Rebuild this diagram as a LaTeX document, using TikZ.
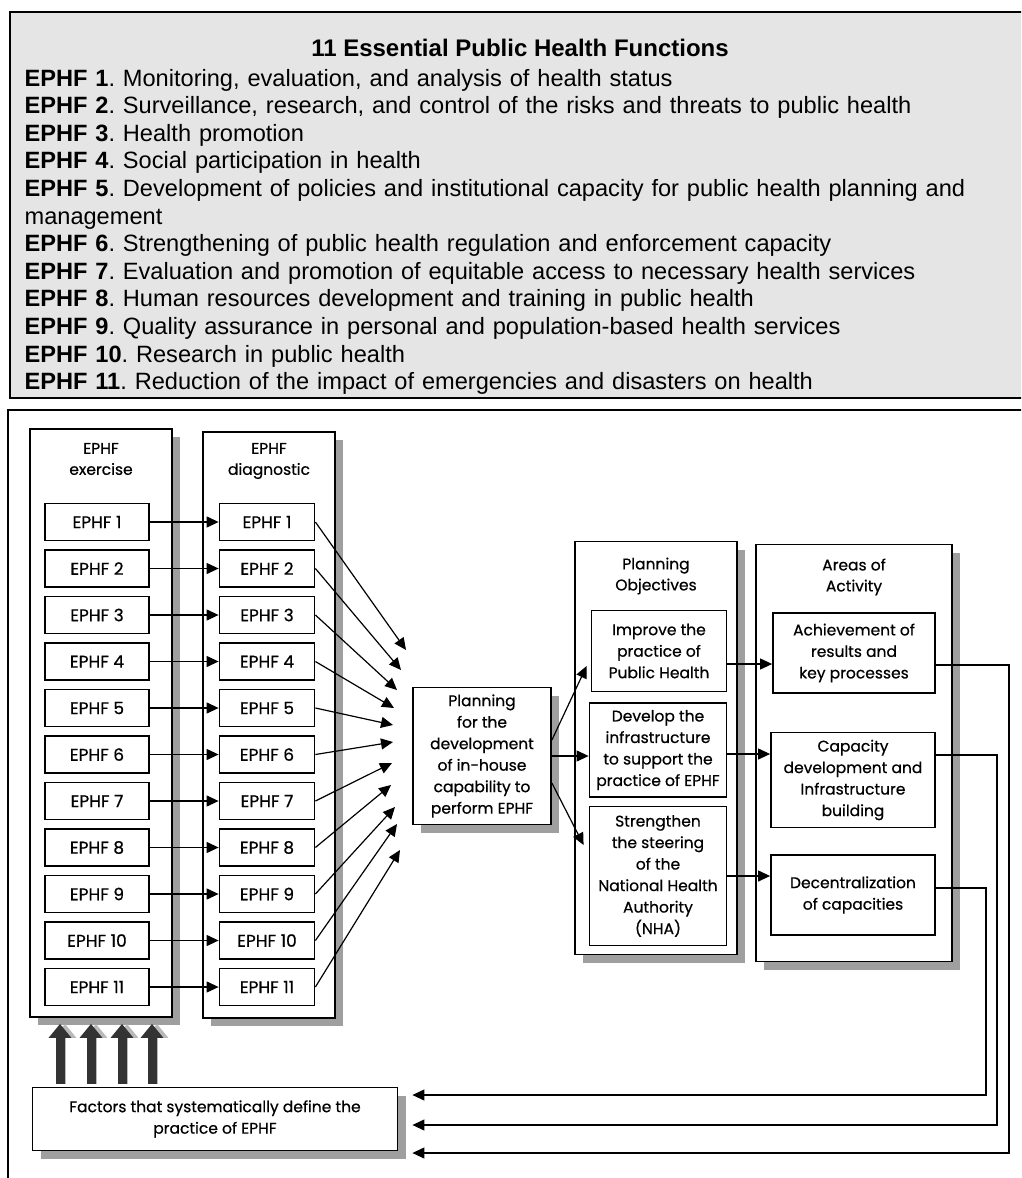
\documentclass[tikz,border=0pt]{standalone}
\usepackage{fontspec}
\setmainfont{Liberation Sans}
\newfontfamily\diagfont{Poppins}[FakeBold=0.6]
\frenchspacing
\usetikzlibrary{arrows.meta,shadows,positioning}

\begin{document}
\begin{tikzpicture}[x=1pt,y=-1pt,>={Triangle[length=12pt,width=11pt]},line width=1.2pt,
    panel/.style={draw,line width=1.8pt,fill=white,
      drop shadow={shadow xshift=8pt,shadow yshift=-8pt,fill=gray!75,opacity=1}},
    box/.style={draw,line width=1.8pt,fill=white,align=center,inner sep=1pt,
      font=\diagfont\fontsize{15.5}{21.5}\selectfont},
    title/.style={align=center,font=\diagfont\fontsize{15.5}{21}\selectfont},
    ephf/.style={box,minimum height=37pt,font=\diagfont\fontsize{17}{20}\selectfont},
    fat arrow/.style={line width=9pt,draw=black!80,-{Triangle[length=14pt,width=22pt]},
      preaction={draw=gray!55,transform canvas={xshift=5pt}}}]
  \useasboundingbox (0,0) rectangle (1021,1178);
  \clip (0,0) rectangle (1021,1178);

  \draw[line width=1.5pt,fill=gray!20] (1030,12) -- (10,12) -- (10,398) -- (1030,398);
  \node[font=\bfseries\fontsize{24}{28}\selectfont] (head) at (520,48) {11 Essential Public Health Functions};
  \node[anchor=base west,inner sep=0pt,text width=1000pt,align=left,
        font=\fontsize{23.6}{27.6}\selectfont] (list) at (24,86)
    {\textbf{EPHF 1}. Monitoring, evaluation, and analysis of health status\\
     \textbf{EPHF 2}. Surveillance, research, and control of the risks and threats to public health\\
     \textbf{EPHF 3}. Health promotion\\
     \textbf{EPHF 4}. Social participation in health\\
     \textbf{EPHF 5}. Development of policies and institutional capacity for public health planning and\\
     management\\
     \textbf{EPHF 6}. Strengthening of public health regulation and enforcement capacity\\
     \textbf{EPHF 7}. Evaluation and promotion of equitable access to necessary health services\\
     \textbf{EPHF 8}. Human resources development and training in public health\\
     \textbf{EPHF 9}. Quality assurance in personal and population-based health services\\
     \textbf{EPHF 10}. Research in public health\\
     \textbf{EPHF 11}. Reduction of the impact of emergencies and disasters on health};

  \draw[line width=1.2pt] (1030,410) -- (8,410) -- (8,1190);

  \node[panel,minimum width=142pt,minimum height=588pt] (exercise) at (101,723) {};
  \node[panel,minimum width=132pt,minimum height=586pt] (diagnostic) at (269,725) {};
  \node[title] (extitle) at (101,459) {EPHF\\exercise};
  \node[title] (dgtitle) at (269,461) {EPHF\\diagnostic};

  \foreach \i in {1,...,11} {
    \node[ephf,minimum width=104pt] (ex\i) at (97,{522+46.5*(\i-1)}) {EPHF \i};
    \node[ephf,minimum width=95pt] (dg\i) at (267,{522+46.5*(\i-1)}) {EPHF \i};
    \path[->] (ex\i) edge (dg\i);
  }

  \foreach \i/\tx/\ty in {1/406/650,2/401/670,3/397/690,4/394/708,5/393/725,6/393/742,
                          7/392/763,8/391/785,9/395/807,10/397/824,11/400/850} {
    \coordinate (fan\i) at (\tx,\ty);
    \draw[->] (dg\i.east) -- (fan\i);
  }

  \node[panel,box,minimum width=138pt,minimum height=137pt] (plan) at (482,756)
    {Planning\\for the\\development\\of in-house\\capability to\\perform EPHF};

  \node[panel,minimum width=162pt,minimum height=413pt] (objectives) at (656,748) {};
  \node[title] (objtitle) at (656,576) {Planning\\Objectives};
  \node[box,minimum width=135pt,minimum height=81pt] (obj1) at (659,651)
    {Improve the\\practice of\\Public Health};
  \node[box,minimum width=137pt,minimum height=94pt] (obj2) at (658,750)
    {Develop the\\infrastructure\\to support the\\practice of EPHF};
  \node[box,minimum width=137pt,minimum height=139pt] (obj3) at (658,876)
    {Strengthen\\the steering\\of the\\National Health\\Authority\\(NHA)};

  \node[panel,minimum width=196pt,minimum height=417pt] (activity) at (854,753) {};
  \node[title] (acttitle) at (854,577) {Areas of\\Activity};
  \node[box,minimum width=162pt,minimum height=80pt] (act1) at (854,653)
    {Achievement of\\results and\\key processes};
  \node[box,minimum width=164pt,minimum height=95pt] (act2) at (853,780)
    {Capacity\\development and\\Infrastructure\\building};
  \node[box,minimum width=164pt,minimum height=80pt] (act3) at (853,895)
    {Decentralization\\of capacities};

  \draw[->] ([yshift=16pt]plan.east) -- ([xshift=-4pt,yshift=-15pt]obj1.west);
  \draw[->] (plan.east) -- (plan.east -| obj2.west);
  \draw[->] ([yshift=-27pt]plan.east) -- ([xshift=-5pt,yshift=31pt]obj3.west);

  \draw[->] ([yshift=-13pt]obj1.east) -- ([yshift=-13pt]obj1.east -| act1.west);
  \draw[->] ([yshift=-4pt]obj2.east) -- ([yshift=-4pt]obj2.east -| act2.west);
  \draw[->] (obj3.east) -- (obj3.east -| act3.west);

  \node[panel,box,minimum width=365pt,minimum height=63pt] (factors) at (215,1119)
    {Factors that systematically define the\\practice of EPHF};

  \foreach \dx in {-41,-10,21,51}
    \draw[fat arrow] ([xshift=\dx pt,yshift=3pt]exercise.south |- factors.north)
      -- ([xshift=\dx pt,yshift=-6pt]exercise.south);

  \coordinate (c1) at (1009,1153);
  \coordinate (c2) at (997,1125);
  \coordinate (c3) at (986,1095);
  \draw[->] ([yshift=-12pt]act1.east) -| (c1) -- ([xshift=14pt]factors.east |- c1);
  \draw[->] ([yshift=25pt]act2.east) -| (c2) -- ([xshift=14pt]factors.east |- c2);
  \draw[->] ([yshift=7pt]act3.east) -| (c3) -- ([xshift=14pt]factors.east |- c3);
\end{tikzpicture}
\end{document}
